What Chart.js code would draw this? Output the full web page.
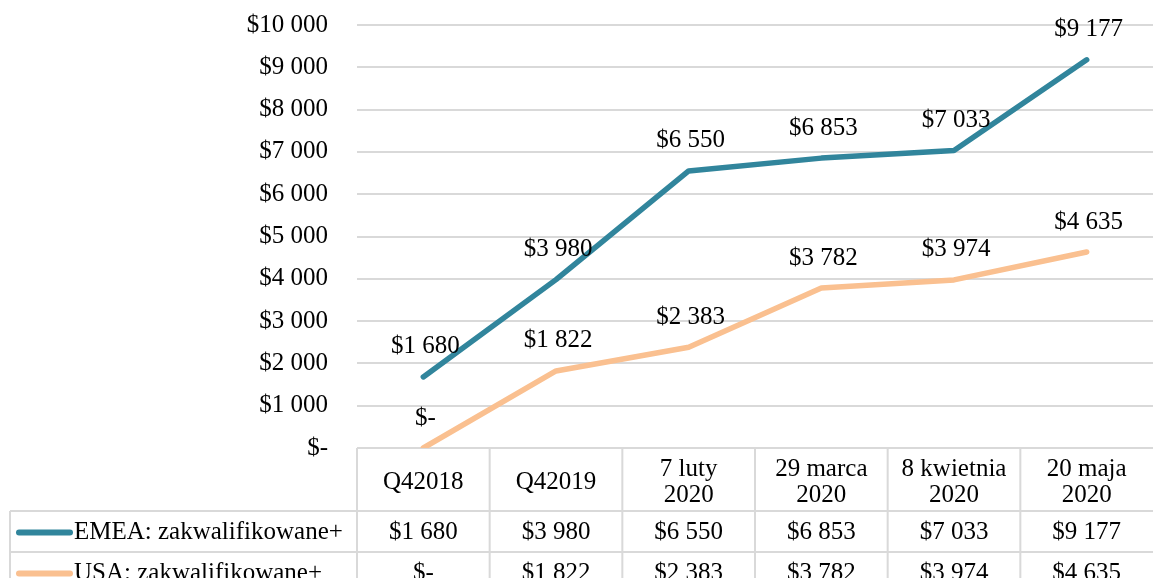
<!DOCTYPE html>
<html>
<head>
<meta charset="utf-8">
<script src="https://cdn.jsdelivr.net/npm/chart.js@4/dist/chart.umd.min.js"></script>
<style>
  html, body { margin: 0; padding: 0; background: #fff; }
  #wrap { width: 1153px; height: 578px; }
</style>
</head>
<body>
<div id="wrap"><canvas id="chart" width="1153" height="578"></canvas></div>
<script>
// data
let categories = [["Q42018"], ["Q42019"], ["7 luty", "2020"], ["29 marca", "2020"], ["8 kwietnia", "2020"], ["20 maja", "2020"]];
let seriesNames = ["EMEA: zakwalifikowane+", "USA: zakwalifikowane+"];
let emeaValues = [1680, 3980, 6550, 6853, 7033, 9177];
let usaValues = [0, 1822, 2383, 3782, 3974, 4635];
let seriesColors = ["#31859c", "#fac090"];

let fontFamily = "'Liberation Serif', 'Times New Roman', serif";
let fontSize = 25;
let gridColor = "#d9d9d9";

function money(v) {
    if (v === 0) return "$-";
    return "$" + String(v).replace(/\B(?=(\d{3})+(?!\d))/g, " ");
}

// labels above each point
let pointLabels = {
    id: "pointLabels",
    afterDatasetsDraw(chart) {
        let ctx = chart.ctx;
        ctx.save();
        ctx.font = fontSize + "px " + fontFamily;
        ctx.fillStyle = "#000";
        ctx.textAlign = "center";
        ctx.textBaseline = "middle";
        chart.data.datasets.forEach((ds, i) => {
            chart.getDatasetMeta(i).data.forEach((pt, j) => {
                ctx.fillText(money(ds.data[j]), pt.x + 2, pt.y - 30);
            });
        });
        ctx.restore();
    }
};

// Excel-style data table under the plot
let dataTable = {
    id: "dataTable",
    afterDraw(chart) {
        let ctx = chart.ctx;
        let x = chart.scales.x;
        let area = chart.chartArea;
        let n = categories.length;
        let colW = (area.right - area.left) / n;
        let top = area.bottom;
        let headBottom = top + 63;
        let rowH = 41;
        let bottom = chart.height + 20;
        let leftEdge = 10;

        ctx.save();
        ctx.strokeStyle = gridColor;
        ctx.lineWidth = 2;
        ctx.beginPath();
        for (let r = 0; r < 2; r++) {
            let y = headBottom + r * rowH;
            ctx.moveTo(leftEdge, y);
            ctx.lineTo(area.right, y);
        }
        for (let c = 0; c < n; c++) {
            let cx = area.left + c * colW;
            ctx.moveTo(cx, top);
            ctx.lineTo(cx, bottom);
        }
        ctx.moveTo(leftEdge, headBottom);
        ctx.lineTo(leftEdge, bottom);
        ctx.stroke();

        ctx.font = fontSize + "px " + fontFamily;
        ctx.fillStyle = "#000";
        ctx.textAlign = "center";
        ctx.textBaseline = "middle";
        categories.forEach((lab, i) => {
            let cx = x.getPixelForValue(i);
            let mid = (top + headBottom) / 2 + 3;
            let lh = 26;
            lab.forEach((line, k) => {
                ctx.fillText(line, cx, mid + (k - (lab.length - 1) / 2) * lh);
            });
        });
        let rows = [emeaValues, usaValues];
        rows.forEach((vals, r) => {
            let cy = headBottom + r * rowH + rowH / 2 + 1;
            vals.forEach((v, i) => {
                ctx.fillText(money(v), x.getPixelForValue(i), cy);
            });
            // legend key
            ctx.save();
            ctx.strokeStyle = seriesColors[r];
            ctx.lineWidth = 6;
            ctx.lineCap = "round";
            ctx.beginPath();
            ctx.moveTo(19, cy);
            ctx.lineTo(70, cy);
            ctx.stroke();
            ctx.restore();
            ctx.textAlign = "left";
            ctx.fillText(seriesNames[r], 74, cy);
            ctx.textAlign = "center";
        });
        ctx.restore();
    }
};

new Chart("chart", {
    type: "line",
    data: {
        labels: categories,
        datasets: [
            { label: seriesNames[0], data: emeaValues, borderColor: seriesColors[0] },
            { label: seriesNames[1], data: usaValues, borderColor: seriesColors[1] }
        ]
    },
    options: {
        responsive: false,
        animation: false,
        layout: { padding: { top: 25, bottom: 130, left: 0, right: 0 } },
        elements: {
            line: { borderWidth: 5.5, tension: 0, borderCapStyle: "round", borderJoinStyle: "round" },
            point: { radius: 0, hoverRadius: 0 }
        },
        plugins: {
            legend: { display: false },
            tooltip: { enabled: false }
        },
        scales: {
            x: {
                display: false,
                offset: true
            },
            y: {
                min: 0,
                max: 10000,
                ticks: {
                    stepSize: 1000,
                    padding: 29,
                    color: "#000",
                    font: { family: fontFamily, size: fontSize },
                    callback: (v) => money(v)
                },
                grid: { color: gridColor, lineWidth: 2, drawTicks: false },
                border: { display: false },
                afterFit: (scale) => {
                    scale.width = 357;
                    scale.paddingTop = 0;
                    scale.paddingBottom = 0;
                }
            }
        }
    },
    plugins: [pointLabels, dataTable]
});
</script>
</body>
</html>
